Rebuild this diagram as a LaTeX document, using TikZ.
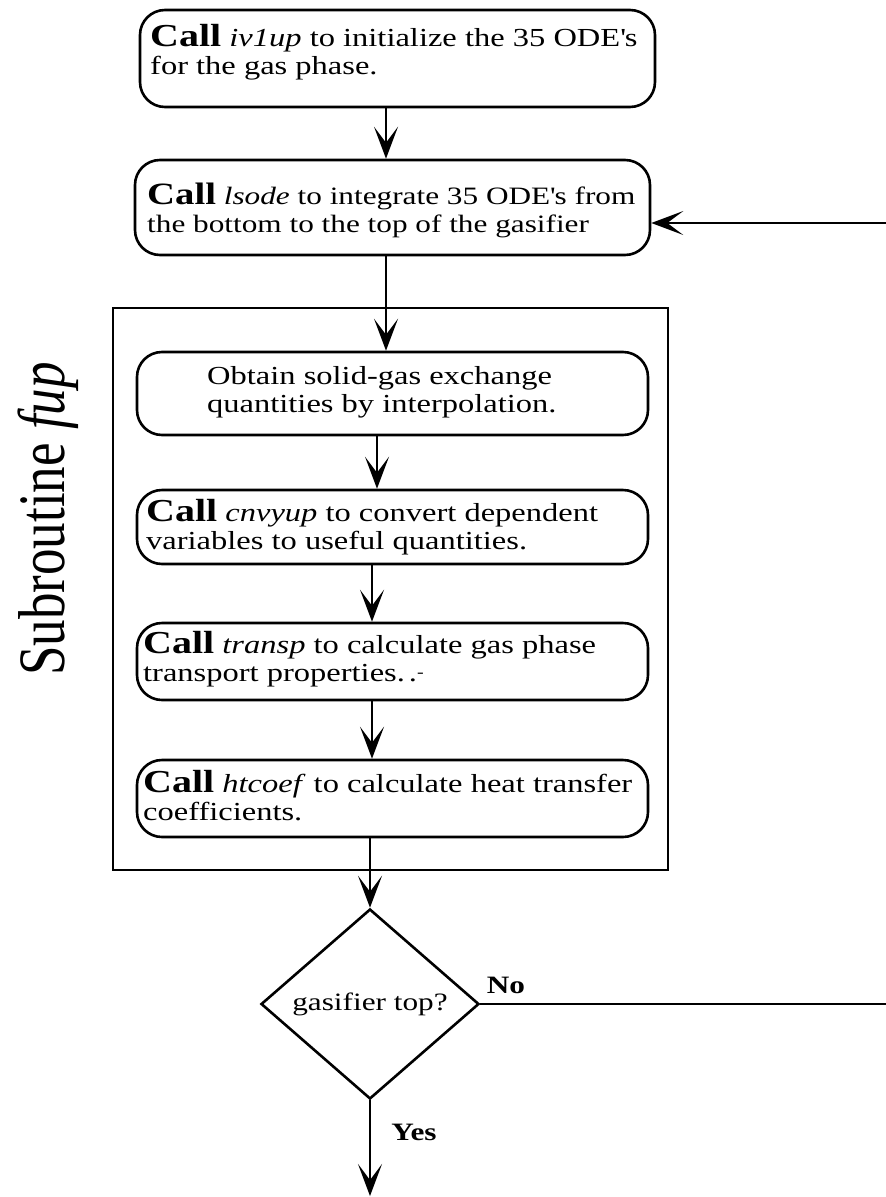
\documentclass[tikz,border=0pt]{standalone}
\usepackage{fontspec}
\setmainfont{Liberation Serif}[FakeStretch=1.25]
\newfontfamily\lblfont{Liberation Serif}
\usetikzlibrary{arrows.meta,shapes.geometric,calc}
\newcommand\callword[1][32]{{\fontsize{#1}{#1}\selectfont\bfseries Call}}
\newcommand\ap{\textquotesingle}
\tikzset{
  proc/.style={draw, line width=2.6pt, rounded corners=25pt, inner sep=0pt},
  txt/.style={align=left, inner sep=0pt, anchor=west, font=\fontsize{26}{28}\selectfont},
  flow/.style={draw, line width=2.2pt, -{Stealth[length=32pt,width=24pt,inset=16pt]}},
  plain/.style={draw, line width=2.4pt},
  tag/.style={inner sep=0pt, font=\fontsize{25}{25}\selectfont\bfseries},
}
\begin{document}
\begin{tikzpicture}[x=1pt,y=-1pt]
\useasboundingbox (0,0) rectangle (886,1197);
% axes of the vertical connectors
\coordinate (ax) at (386,0);
\coordinate (ax2) at (377,0);
\coordinate (ax3) at (372,0);

% main loop boxes
\node[proc, minimum width=515pt, minimum height=97pt] (b1) at (397.5,58.5) {};
\node[txt] (t1) at (150,52) {\callword{} \textit{iv1up} to initialize the 35 ODE\ap s\\for the gas phase.};

\node[proc, minimum width=515pt, minimum height=95pt] (b2) at (392.5,207.5) {};
\node[txt, font=\fontsize{25}{28}\selectfont] (t2) at (147,210) {\callword[31]{} \textit{lsode} to integrate 35 ODE\ap s from\\the bottom to the top of the gasifier};

% subroutine frame
\node[draw, line width=2.4pt, minimum width=555pt, minimum height=562pt, inner sep=0pt] (sub) at (390.5,589) {};
\node[rotate=90, inner sep=0pt, font=\lblfont\fontsize{53}{53}\selectfont] (lbl) at (48,519) {\scalebox{1}[1.25]{Subroutine \textit{fup}}};

\node[proc, minimum width=511pt, minimum height=83pt] (b3) at (392.5,393.5) {};
\node[txt] (t3) at (207,392) {Obtain solid-gas exchange\\quantities by interpolation.};

\node[proc, minimum width=511pt, minimum height=74pt] (b4) at (392.5,527) {};
\node[txt] (t4) at (146,527) {\callword{} \textit{cnvyup} to convert dependent\\variables to useful quantities.};

\node[proc, minimum width=511pt, minimum height=77pt] (b5) at (392.5,661.5) {};
\node[txt] (t5) at (143,659) {\callword{} \textit{transp} to calculate gas phase\\transport properties.\hspace{4pt}.\raisebox{4pt}{\fontsize{16}{16}\selectfont -}};

\node[proc, minimum width=511pt, minimum height=77pt] (b6) at (392.5,798.5) {};
\node[txt] (t6) at (143,796) {\callword{} \textit{htcoef} to calculate heat transfer\\coefficients.};

% decision
\node[draw, diamond, line width=2.6pt, minimum width=218pt, minimum height=190pt, inner sep=0pt] (dec) at (370,1004) {};
\node[inner sep=0pt, font=\fontsize{25}{25}\selectfont] (dt) at (dec.center) {gasifier top?};

% connectors
\draw[flow] (b1.south -| ax) -- (b2.north -| ax);
\draw[flow] (b2.south -| ax) -- (b3.north -| ax);
\draw[flow] (b3.south -| ax2) -- (b4.north -| ax2);
\draw[flow] (b4.south -| ax3) -- (b5.north -| ax3);
\draw[flow] (b5.south -| ax3) -- (b6.north -| ax3);
\draw[flow] (b6.south -| dec.north) -- (dec.north);

\coordinate (r1) at (886,223);
\draw[flow] (r1) -- (r1 -| b2.east);

\coordinate (r2) at (886,1004);
\draw[plain] (dec.east) -- (r2);
\node[tag] (no) at (506,985) {No};

\coordinate (endp) at (370,1196);
\draw[flow] (dec.south) -- (endp);
\node[tag] (yes) at (414,1132) {Yes};
\end{tikzpicture}
\end{document}
